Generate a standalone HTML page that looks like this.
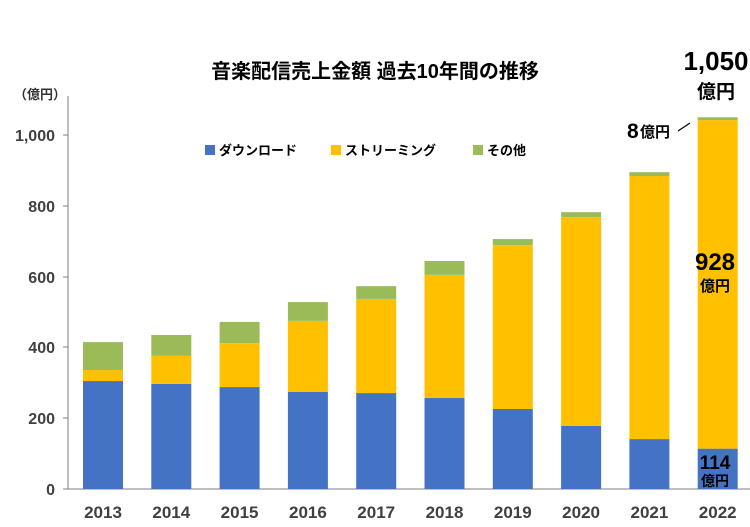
<!DOCTYPE html><html><head><meta charset="utf-8"><style>body{margin:0;background:#fff}svg{display:block}text{font-family:"Liberation Sans","Noto Sans CJK JP",sans-serif;font-weight:bold}</style></head><body>
<svg width="750" height="527" viewBox="0 0 750 527">
<text x="375" y="78" font-size="20" text-anchor="middle" fill="#000">音楽配信売上金額 過去10年間の推移</text>
<text x="40" y="99" font-size="13" text-anchor="middle" fill="#333" font-weight="normal">（億円）</text>
<g font-size="16" fill="#404040" text-anchor="end">
<text x="55" y="495">0</text><text x="55" y="424">200</text><text x="55" y="353">400</text><text x="55" y="283">600</text><text x="55" y="212">800</text><text x="55" y="141">1,000</text></g>
<g stroke="#7f7f7f" stroke-width="1"><line x1="68" y1="96" x2="68" y2="489"/><line x1="68" y1="489" x2="750" y2="489"/>
<line x1="63" y1="489" x2="68" y2="489"/><line x1="63" y1="418" x2="68" y2="418"/><line x1="63" y1="347" x2="68" y2="347"/><line x1="63" y1="277" x2="68" y2="277"/><line x1="63" y1="206" x2="68" y2="206"/><line x1="63" y1="135" x2="68" y2="135"/></g>
<g id="bars"></g>
<g font-size="17" fill="#404040" text-anchor="middle" id="xl"></g>
<rect x="205" y="145" width="10" height="10" fill="#4472C4"/><text x="219" y="155" font-size="13">ダウンロード</text>
<rect x="331" y="145" width="10" height="10" fill="#FFC000"/><text x="345" y="155" font-size="13">ストリーミング</text>
<rect x="473" y="145" width="10" height="10" fill="#9BBB59"/><text x="487" y="155" font-size="13">その他</text>
<text x="716" y="70" font-size="26" text-anchor="middle">1,050</text>
<text x="716" y="98" font-size="19" text-anchor="middle">億円</text>
<text x="627" y="138" font-size="21">8</text><text x="640" y="137" font-size="15">億円</text>
<line x1="678" y1="131" x2="690" y2="123" stroke="#000" stroke-width="1.2"/>
<text x="715" y="270" font-size="24" text-anchor="middle">928</text>
<text x="715" y="291" font-size="15" text-anchor="middle">億円</text>
<text x="715" y="469" font-size="19" text-anchor="middle">114</text>
<text x="715" y="486" font-size="14" text-anchor="middle">億円</text>
</svg>
<script>
var d=[[2013,305,336,415],[2014,297,376,435],[2015,288,412,472],[2016,274,475,528],[2017,271,537,573],[2018,257,605,644],[2019,226,689,706],[2020,178,768,782],[2021,141,884,895],[2022,114,1042,1050]];
var s=0.354,b=489,g=document.getElementById('bars'),xl=document.getElementById('xl'),h='',t='';
d.forEach(function(r,i){var c=103+i*68.3,x=c-20;
function y(v){return b-v*s;}
h+='<rect x="'+x+'" y="'+y(r[1])+'" width="40" height="'+(r[1]*s)+'" fill="#4472C4"/>';
h+='<rect x="'+x+'" y="'+y(r[2])+'" width="40" height="'+((r[2]-r[1])*s)+'" fill="#FFC000"/>';
h+='<rect x="'+x+'" y="'+y(r[3])+'" width="40" height="'+((r[3]-r[2])*s)+'" fill="#9BBB59"/>';
t+='<text x="'+c+'" y="518">'+r[0]+'</text>';});
g.innerHTML=h;xl.innerHTML=t;
</script>
</body></html>
